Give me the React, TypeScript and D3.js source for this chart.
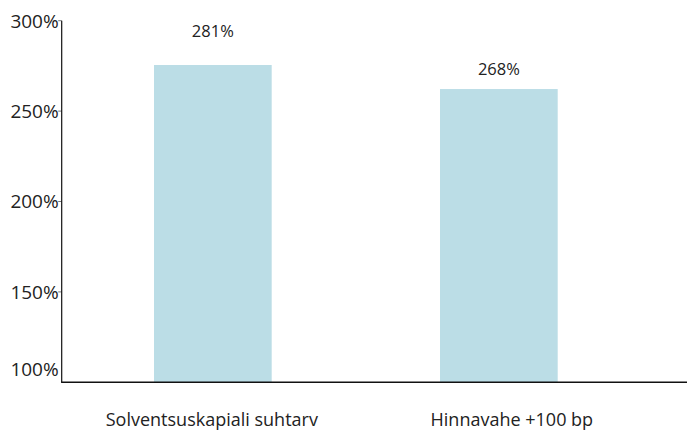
import React from "react";
import * as d3 from "d3";

const categories = ["Solventsuskapiali suhtarv", "Hinnavahe +100 bp"];
const barValues = [275.5, 262.2];
const valueLabels = ["281%", "268%"];
const yTicks = [100, 150, 200, 250, 300];

const W = 693;
const H = 430;
const FONT = "'Open Sans', 'Noto Sans', sans-serif";

export default function App() {
  const axisX = 61.7;
  const axisY = 382.3;
  const y = d3.scaleLinear().domain([100, 300]).range([axisY, 20.7]);
  const x = d3
    .scaleBand<string>()
    .domain(categories)
    .range([axisX, 650])
    .paddingInner(0.5885)
    .paddingOuter(0.3227);

  const labelLift = [34.3, 19.7];
  const catDx = [-1, 13];

  return (
    <svg
      width={W}
      height={H}
      style={{ position: "absolute", left: 0, top: 0, background: "#fff" }}
      fontFamily={FONT}
    >
      {categories.map((c, i) => (
        <rect
          key={c}
          x={x(c)}
          y={y(barValues[i])}
          width={x.bandwidth()}
          height={axisY - y(barValues[i])}
          fill="#bbdde6"
        />
      ))}
      {yTicks.map((t, i) => (
        <g key={t}>
          {t !== 100 && (
            <line x1={axisX - 3.5} x2={axisX} y1={y(t)} y2={y(t)} stroke="#777" strokeWidth={1} />
          )}
          <text
            x={axisX - 3}
            y={y(t) - (i === 0 ? 13.5 : 0)}
            dy="0.36em"
            textAnchor="end"
            fontSize={19}
            fill="#222"
          >
            {t}%
          </text>
        </g>
      ))}
      <line x1={axisX} x2={axisX} y1={y(300)} y2={axisY} stroke="#111" strokeWidth={1.2} />
      <line x1={axisX - 0.6} x2={687} y1={axisY} y2={axisY} stroke="#111" strokeWidth={1.4} />
      {categories.map((c, i) => (
        <text
          key={"v" + c}
          x={(x(c) as number) + x.bandwidth() / 2}
          y={y(barValues[i]) - labelLift[i]}
          dy="0.36em"
          textAnchor="middle"
          fontSize={16.5}
          fill="#222"
        >
          {valueLabels[i]}
        </text>
      ))}
      {categories.map((c, i) => (
        <text
          key={"c" + c}
          x={(x(c) as number) + x.bandwidth() / 2 + catDx[i]}
          y={419.5}
          dy="0.36em"
          textAnchor="middle"
          fontSize={18}
          fill="#222"
        >
          {c}
        </text>
      ))}
    </svg>
  );
}
